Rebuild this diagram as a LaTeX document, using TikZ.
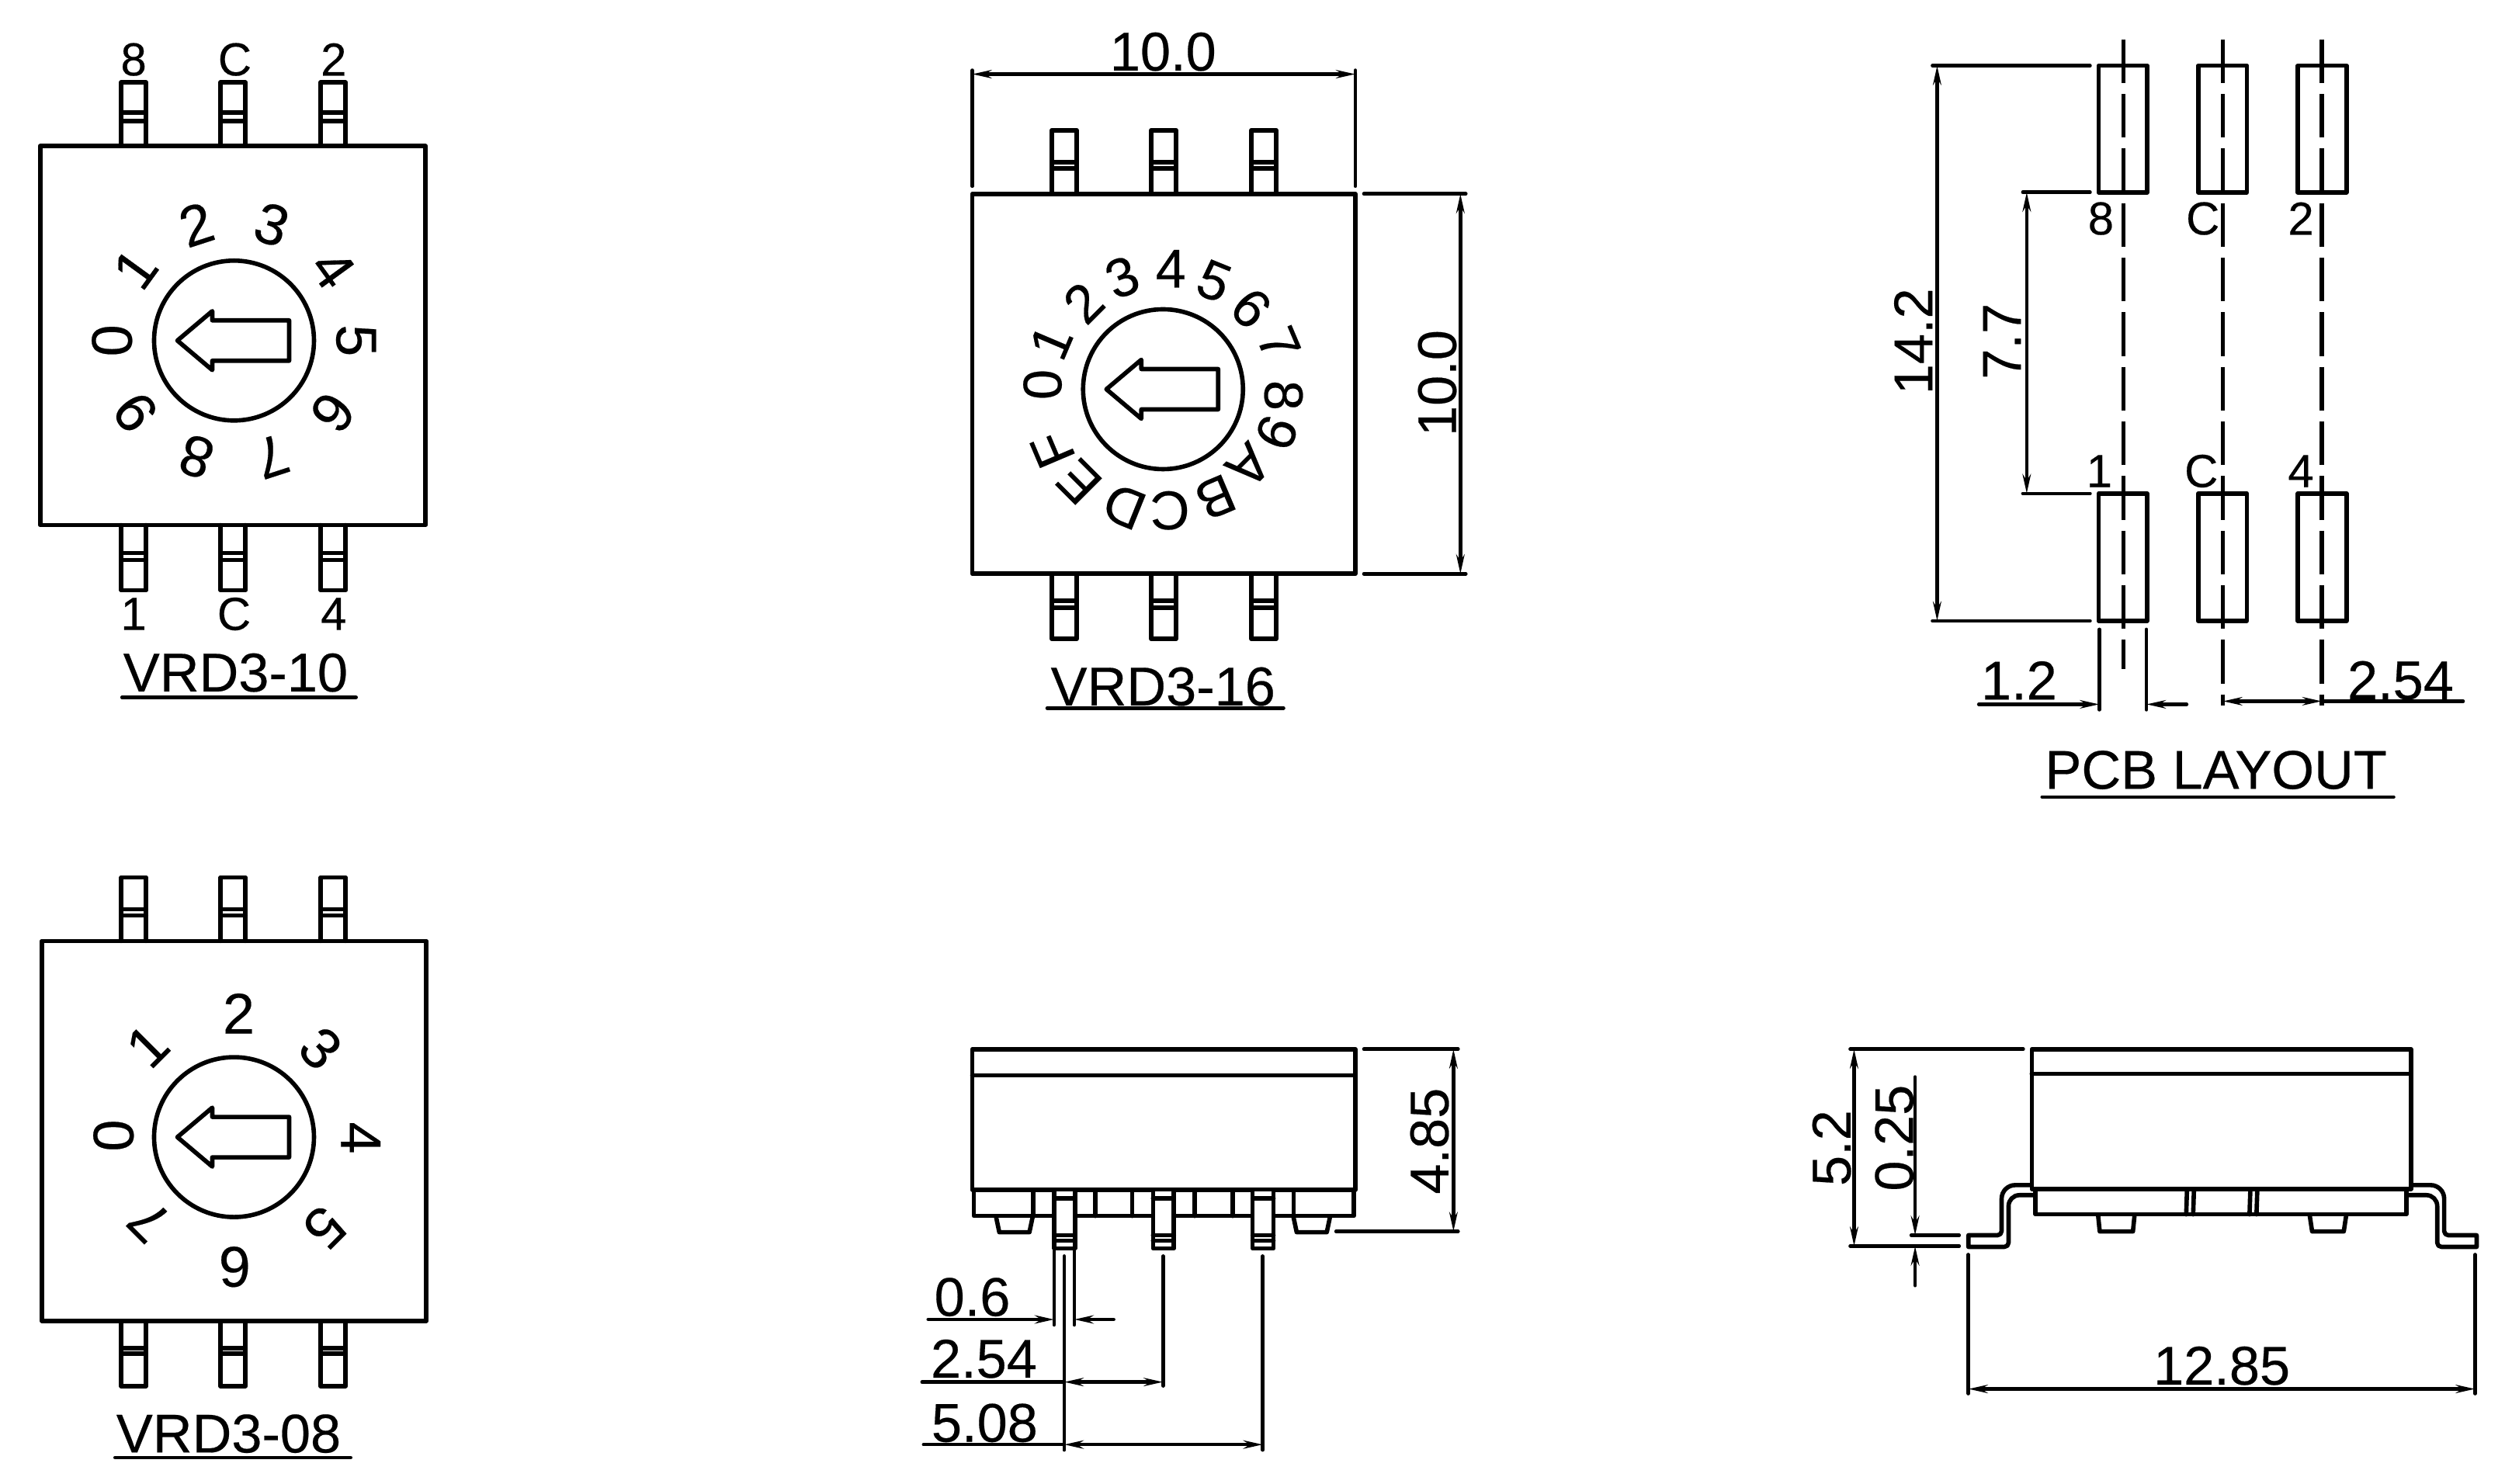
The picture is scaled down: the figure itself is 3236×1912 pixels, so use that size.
\documentclass[tikz,border=0pt]{standalone}
\usepackage{fontspec}
\setmainfont{Liberation Sans}[RawFeature={embolden=0.3}]
\usetikzlibrary{arrows.meta}
\begin{document}
\begin{tikzpicture}[
        x=0.01cm, y=-0.01cm,
        >={Stealth[length=7pt,width=3pt]},
        part/.style={draw, line width=1.6pt, line cap=round, line join=round},
        dim/.style={draw, line width=1.3pt, line cap=round},
        center line/.style={draw, line width=1.5pt, dash pattern=on 16pt off 4pt},
        size/.style={inner sep=0pt, font=\fontsize{20}{24}\selectfont},
        pin/.style={inner sep=0pt, font=\fontsize{17}{20}\selectfont},
        digit/.style={inner sep=0pt, font=\fontsize{21}{24}\selectfont},
        hexdigit/.style={inner sep=0pt, font=\fontsize{20}{24}\selectfont},
        view/.style={scale=0.995, shift={(#1)}},
        pics/knob/.style={code={
            \draw[part] (0,0) circle (103);
            \draw[part] (-73,0) -- (-28,-38) -- (-28,-26) -- (71,-26) -- (71,26) -- (-28,26) -- (-28,38) -- cycle;
        }},
        pics/leads/.style n args={3}{code={
            \foreach \x in {0,128,257} {
                \draw[part] (\x,0) -- (\x,#1) -- (\x+32,#1) -- (\x+32,0);
                \draw[part] (\x,#2) -- (\x+32,#2) (\x,#3) -- (\x+32,#3);
            }
        }}
    ]
        \useasboundingbox (0,0) rectangle (3236,1912);

        % VRD3-10
        \begin{scope}[view={0,0}]
            \pic at (157,189) {leads={-82}{-43}{-32}};
            \pic at (157,680) {leads={84}{36}{45}};
            \draw[part] (52,189) rectangle (551,680);
            \pic at (303,441) {knob};
            \foreach \d [count=\i from 0] in {0,...,9} {
                \node[digit, rotate=90-36*\i] (ten\d) at ({303+158*cos(180+36*\i)},{441+158*sin(180+36*\i)}) {\d};
            }
            \node[pin] (tenpa) at (173,77) {8};
            \node[pin] (tenpb) at (304,77) {C};
            \node[pin] (tenpc) at (432,77) {2};
            \node[pin] (tenpd) at (173,795) {1};
            \node[pin] (tenpe) at (303,795) {C};
            \node[pin] (tenpf) at (432,795) {4};
            \node[size] (tentitle) at (305,871) {VRD3-10};
            \draw[dim] (158,903) -- (461,903);
        \end{scope}

        % VRD3-16
        \begin{scope}[view={5.78,0}]
            \pic at (1356,251) {leads={-82}{-41}{-33}};
            \pic at (1356,743) {leads={84}{35}{44}};
            \draw[part] (1253,251) rectangle (1749,743);
            \pic at (1500,504) {knob};
            \foreach \t/\x/\y/\r [count=\i] in {
                0/1344/498/90, 1/1355/443/67, 2/1397/392/45, 3/1447/359/22, 4/1510/348/0, 5/1566/364/-22,
                6/1614/399/-45, 7/1650/445/-67, 8/1656/512/-90, 9/1647/560/-112, A/1611/603/-135, B/1568/644/-157,
                C/1509/661/-180, D/1450/656/-202, E/1391/624/-225, F/1357/582/-247} {
                \node[hexdigit, rotate=\r] (hex\i) at (\x,\y) {\t};
            }
            \draw[dim] (1253,91) -- (1253,241) (1749,91) -- (1749,241);
            \draw[dim,<->] (1253,96) -- (1749,96);
            \node[size] (widthtop) at (1500,67) {10.0};
            \draw[dim] (1760,251) -- (1892,251) (1760,743) -- (1892,743);
            \draw[dim,<->] (1885,251) -- (1885,743);
            \node[size, rotate=90] (depthtop) at (1855,496) {10.0};
            \node[size] (hextitle) at (1500,889) {VRD3-16};
            \draw[dim] (1350,917) -- (1656,917);
        \end{scope}

        % VRD3-08
        \begin{scope}[view={0,5.43}]
            \pic at (157,1213) {leads={-82}{-41}{-33}};
            \pic at (157,1705) {leads={84}{35}{42}};
            \draw[part] (54,1213) rectangle (552,1705);
            \pic at (303,1467) {knob};
            \foreach \t/\x/\y/\r [count=\i] in {
                0/147/1465/90, 1/191/1349/45, 2/309/1307/0, 3/415/1352/-45,
                4/467/1468/-90, 5/420/1584/-135, 6/304/1635/180, 7/193/1576/135} {
                \node[digit, rotate=\r] (oct\i) at (\x,\y) {\t};
            }
            \node[size] (octtitle) at (296,1851) {VRD3-08};
            \draw[dim] (149,1882) -- (454,1882);
        \end{scope}

        % PCB layout
        \begin{scope}[view={11.96,0}]
            \foreach \x in {2705,2834,2963} {
                \draw[part] (\x,85) rectangle (\x+63,249);
                \draw[part] (\x,639) rectangle (\x+63,804);
            }
            \draw[center line] (2737,51) -- (2737,866);
            \draw[center line] (2866,51) -- (2866,914);
            \draw[center line] (2994,51) -- (2994,914);
            \node[pin] (pcba) at (2708,283) {8};
            \node[pin] (pcbb) at (2840,283) {C};
            \node[pin] (pcbc) at (2967,283) {2};
            \node[pin] (pcbd) at (2706,610) {1};
            \node[pin] (pcbe) at (2838,610) {C};
            \node[pin] (pcbf) at (2967,610) {4};
            \draw[dim] (2490,85) -- (2694,85) (2490,804) -- (2694,804);
            \draw[dim,<->] (2496,85) -- (2496,804);
            \node[size, rotate=90] (pcbheight) at (2465,442) {14.2};
            \draw[dim] (2607,249) -- (2694,249) (2607,639) -- (2694,639);
            \draw[dim,<->] (2612,249) -- (2612,639);
            \node[size, rotate=90] (pcbgap) at (2580,442) {7.7};
            \draw[dim] (2706,815) -- (2706,919) (2767,815) -- (2767,919);
            \draw[dim,->] (2550,912) -- (2706,912);
            \draw[dim,->] (2819,912) -- (2767,912);
            \node[size] (pcbpad) at (2602,881) {1.2};
            \draw[dim,<->] (2866,908) -- (2994,908);
            \draw[dim] (2994,908) -- (3177,908);
            \node[size] (pcbpitch) at (3096,881) {2.54};
            \node[size] (pcbtitle) at (2857,997) {PCB LAYOUT};
            \draw[dim] (2632,1032) -- (3087,1032);
        \end{scope}

        % Front view
        \begin{scope}[view={5.78,6.53}]
            \draw[part] (1253,1352) rectangle (1749,1534);
            \draw[part] (1253,1386) -- (1749,1386);
            \draw[part] (1255,1534) -- (1255,1568) -- (1747,1568) -- (1747,1534);
            \foreach \x in {1332,1412,1460,1541,1590,1669} {
                \draw[part] (\x,1534) -- (\x,1568);
            }
            \draw[part] (1284,1570) -- (1288,1589) -- (1327,1589) -- (1331,1570);
            \draw[part] (1669,1570) -- (1673,1589) -- (1712,1589) -- (1716,1570);
            \foreach \x in {1359,1487,1616} {
                \draw[part, fill=white] (\x,1536) -- (\x,1610) -- (\x+27,1610) -- (\x+27,1536);
                \draw[part] (\x,1545) -- (\x+27,1545) (\x,1593) -- (\x+27,1593) (\x,1600) -- (\x+27,1600);
            }
            \draw[dim] (1760,1352) -- (1882,1352) (1724,1588) -- (1882,1588);
            \draw[dim,<->] (1876,1352) -- (1876,1588);
            \node[size, rotate=90] (frontheight) at (1845,1471) {4.85};
            \draw[dim] (1359,1613) -- (1359,1709) (1385,1613) -- (1385,1709);
            \draw[dim] (1372,1620) -- (1372,1871) (1500,1620) -- (1500,1788) (1629,1620) -- (1629,1871);
            \draw[dim,->] (1196,1702) -- (1359,1702);
            \draw[dim,->] (1436,1702) -- (1385,1702);
            \node[size] (frontlead) at (1253,1673) {0.6};
            \draw[dim] (1188,1783) -- (1372,1783);
            \draw[dim,<->] (1372,1783) -- (1500,1783);
            \node[size] (frontone) at (1268,1753) {2.54};
            \draw[dim] (1190,1864) -- (1372,1864);
            \draw[dim,<->] (1372,1864) -- (1629,1864);
            \node[size] (fronttwo) at (1269,1836) {5.08};
        \end{scope}

        % Side view
        \begin{scope}[view={11.46,6.53}]
            \draw[part] (2619,1352) rectangle (3110,1533);
            \draw[part] (2619,1384) -- (3110,1384);
            \draw[part] (2624,1533) -- (2624,1566) -- (3104,1566) -- (3104,1533);
            \foreach \x in {2820,2829,2902,2911} {
                \draw[part] (\x,1535) -- (\x-1,1566);
            }
            \draw[part] (2705,1568) -- (2707,1588) -- (2750,1588) -- (2752,1568);
            \draw[part] (2979,1568) -- (2982,1588) -- (3023,1588) -- (3026,1568);
            \draw[part] (2619,1528) [rounded corners=5pt] -- (2580,1528) [rounded corners=1.5pt] -- (2580,1593) [sharp corners] -- (2537,1593) -- (2537,1608) [rounded corners=1.5pt] -- (2589,1608) [rounded corners=4pt] -- (2589,1541) [sharp corners] -- (2623,1541);
            \draw[part] (3110,1528) [rounded corners=5pt] -- (3153,1528) [rounded corners=1.5pt] -- (3153,1593) [sharp corners] -- (3195,1593) -- (3195,1608) [rounded corners=1.5pt] -- (3144,1608) [rounded corners=4pt] -- (3144,1541) [sharp corners] -- (3107,1541);
            \draw[dim] (2384,1352) -- (2608,1352) (2384,1607) -- (2525,1607);
            \draw[dim,<->] (2389,1352) -- (2389,1607);
            \node[size, rotate=90] (sideheight) at (2360,1480) {5.2};
            \draw[dim] (2463,1593) -- (2525,1593);
            \draw[dim,->] (2468,1388) -- (2468,1593);
            \draw[dim,->] (2468,1658) -- (2468,1607);
            \node[size, rotate=90] (sidegap) at (2441,1467) {0.25};
            \draw[dim] (2537,1618) -- (2537,1798) (3193,1618) -- (3193,1798);
            \draw[dim,<->] (2537,1792) -- (3193,1792);
            \node[size] (sidewidth) at (2865,1762) {12.85};
        \end{scope}
    \end{tikzpicture}
\end{document}
